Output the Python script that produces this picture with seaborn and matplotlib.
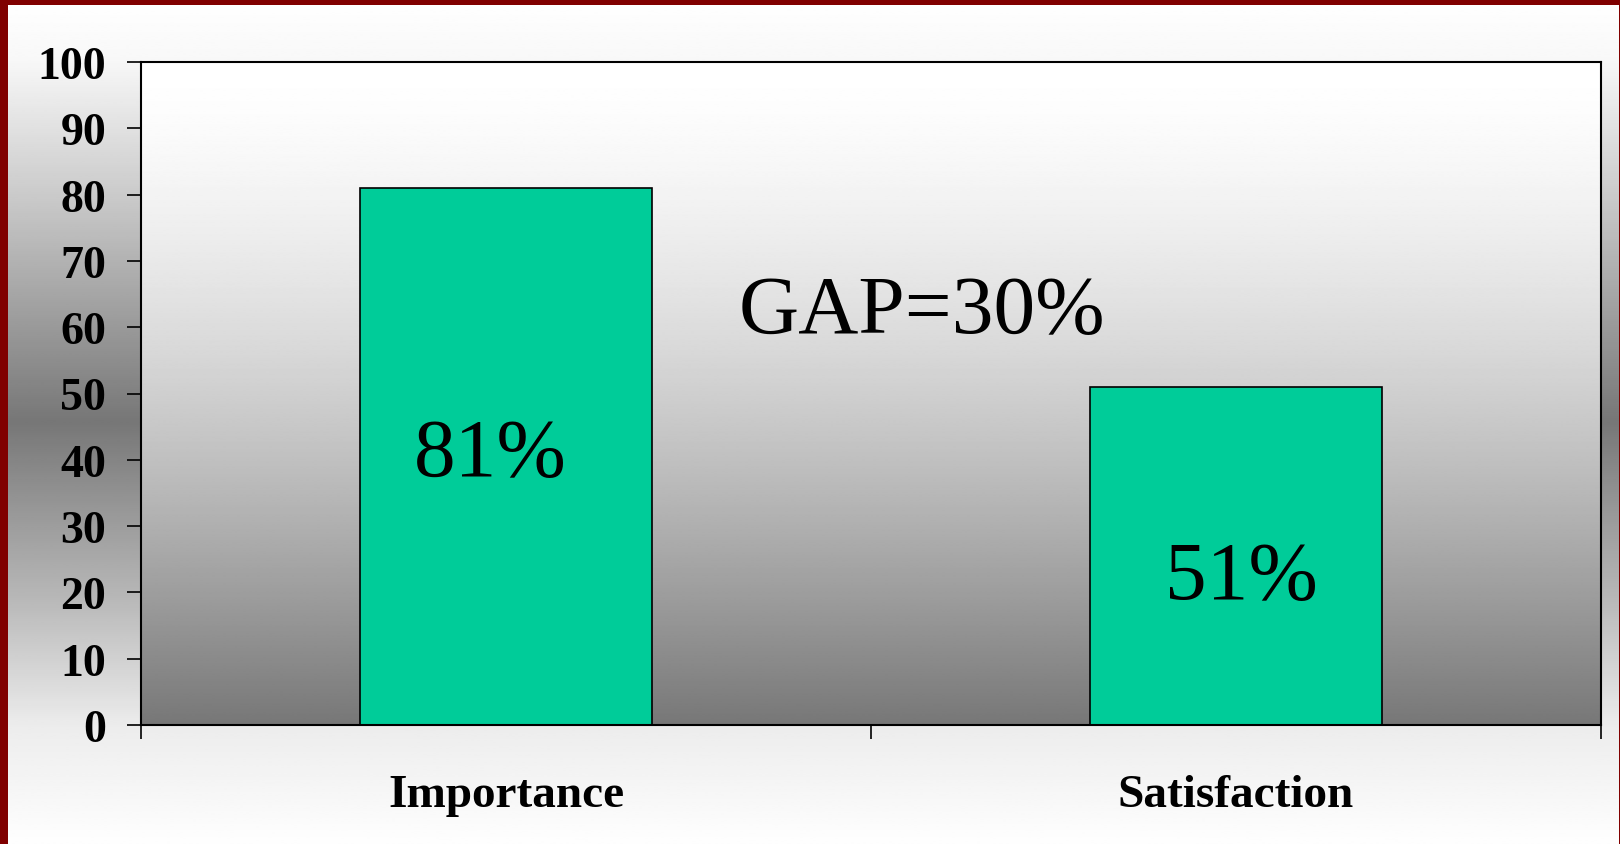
import numpy as np
import pandas as pd
import matplotlib
matplotlib.use("Agg")
import matplotlib.pyplot as plt
import seaborn as sns
from matplotlib.patches import Rectangle

# dados do gráfico
categorias = ["Importance", "Satisfaction"]
valores = [81, 51]
rotulos = ["81%", "51%"]
texto_gap = "GAP=30%"
yticks = list(range(0, 101, 10))

sns.set_style("white")
plt.rcParams["font.family"] = ["Liberation Serif", "DejaVu Serif"]
plt.rcParams["text.color"] = "black"
plt.rcParams["xtick.color"] = "black"
plt.rcParams["ytick.color"] = "black"

df = pd.DataFrame({"Categoria": categorias, "Valor": valores})

fig = plt.figure(figsize=(16.2, 8.45), dpi=100)

# fundo da figura: branco -> cinza -> branco
fundo = fig.add_axes([0, 0, 1, 1], zorder=-10)
yy = np.linspace(0, 1, 400)
cinza = np.interp(yy, [0, 0.07, 0.24, 0.5, 0.71, 0.86, 1.0],
                  [255, 248, 200, 119, 184, 236, 254]) / 255
img = np.repeat(cinza[:, None], 2, axis=1)
fundo.imshow(img, cmap="gray", vmin=0, vmax=1, aspect="auto",
             extent=[0, 1, 1, 0], interpolation="bilinear")
fundo.set_xlim(0, 1)
fundo.set_ylim(1, 0)
fundo.axis("off")
# borda vermelha
vermelho = "#800000"
fundo.add_patch(Rectangle((0, 0), 8 / 1620, 1, color=vermelho, lw=0))
fundo.add_patch(Rectangle((0, 0), 1, 6 / 845, color=vermelho, lw=0))
fundo.add_patch(Rectangle((1 - 1.5 / 1620, 0), 1.5 / 1620, 1, color=vermelho, lw=0))

ax = fig.add_axes([141 / 1620, 1 - 726 / 845, 1460 / 1620, 663 / 845])
ax.set_facecolor("none")

# gradiente da área do gráfico (branco em cima, cinza embaixo)
t = np.linspace(0, 1, 400)
g = (255 - 136 * t ** 1.5) / 255
ax.imshow(np.repeat(g[:, None], 2, axis=1), cmap="gray", vmin=0, vmax=1,
          aspect="auto", extent=[-0.5, 1.5, 0, 100], origin="upper",
          interpolation="bilinear", zorder=0)

sns.barplot(data=df, x="Categoria", y="Valor", color="#00CC99", saturation=1,
            width=0.4, edgecolor="black", linewidth=1.2, ax=ax, zorder=2)

ax.set_xlim(-0.5, 1.5)
ax.set_ylim(0, 100)
ax.set_yticks(yticks)
ax.set_yticklabels([str(v) for v in yticks], fontsize=33, fontweight="bold")
ax.set_xticks(range(len(categorias)))
ax.set_xticklabels(categorias, fontsize=34, fontweight="bold")
ax.set_xticks([-0.5, 0.5, 1.5], minor=True)
ax.tick_params(axis="x", which="major", length=0, pad=35)
ax.tick_params(axis="x", which="minor", length=10, width=1.2, direction="out",
               bottom=True)
ax.tick_params(axis="y", length=10, width=1.2, direction="out", left=True, pad=15)
ax.set_xlabel("")
ax.set_ylabel("")
for s in ax.spines.values():
    s.set_visible(True)
    s.set_color("black")
    s.set_linewidth(1.5)

# rótulos dentro das barras
pos_x = [-0.022, 1.007]
pos_y = [37.7, 19.2]
for x, y, r in zip(pos_x, pos_y, rotulos):
    ax.text(x, y, r, fontsize=60, color="black", ha="center", va="baseline", zorder=3)
ax.text(0.57, 59.3, texto_gap, fontsize=60, color="black", ha="center",
        va="baseline", zorder=3)

fig.savefig("out.png", dpi=100)
